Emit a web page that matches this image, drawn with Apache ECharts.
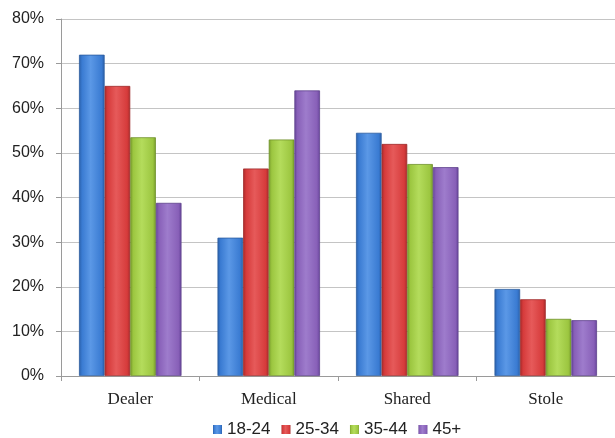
<!DOCTYPE html>
<html>
<head>
<meta charset="utf-8">
<script src="https://cdn.jsdelivr.net/npm/echarts@6/dist/echarts.min.js"></script>
<style>
  html, body { margin: 0; padding: 0; background: #fff; }
  #chart { width: 615px; height: 438px; }
</style>
</head>
<body>
<div id="chart"></div>
<script>
// Share of respondents by age group, per category
const categories = ['Dealer', 'Medical', 'Shared', 'Stole'];
const seriesNames = ['18-24', '25-34', '35-44', '45+'];
const age18to24 = [72, 31, 54.5, 19.5];
const age25to34 = [65, 46.5, 52, 17.2];
const age35to44 = [53.5, 53, 47.5, 12.8];
const age45plus = [38.8, 64, 46.8, 12.5];
const yTicks = [0, 10, 20, 30, 40, 50, 60, 70, 80];

const seriesValues = [age18to24, age25to34, age35to44, age45plus];
const palette = [
  { base: '#3a7bd2', light: '#5b98e6', dark: '#2a5fa8', border: '#2b5c9e' },
  { base: '#d63b3b', light: '#e65a5a', dark: '#a82a2a', border: '#9e2b2b' },
  { base: '#9cc640', light: '#b4dc5c', dark: '#789c2c', border: '#6f902a' },
  { base: '#8860b8', light: '#9e7ccc', dark: '#66449a', border: '#5e418c' }
];

function barFill(c) {
  return new echarts.graphic.LinearGradient(0, 0, 1, 0, [
    { offset: 0, color: c.dark },
    { offset: 0.12, color: c.base },
    { offset: 0.45, color: c.light },
    { offset: 0.88, color: c.base },
    { offset: 1, color: c.dark }
  ]);
}

const chart = echarts.init(document.getElementById('chart'), null, { renderer: 'canvas' });

chart.setOption({
  animation: false,
  backgroundColor: '#ffffff',
  grid: { left: 61, right: 0, top: 19, bottom: 62, containLabel: false },
  legend: {
    bottom: 0,
    left: 208,
    padding: [0, 5, 0, 5],
    itemWidth: 9,
    itemHeight: 9,
    itemGap: 11,
    icon: 'rect',
    itemStyle: { borderWidth: 0 },
    textStyle: { fontFamily: 'Liberation Sans, Arial, sans-serif', fontSize: 17, color: '#222' },
    data: seriesNames
  },
  xAxis: {
    type: 'category',
    data: categories,
    axisLine: { show: true, lineStyle: { color: '#9a9a9a', width: 1 } },
    axisTick: { show: true, length: 5, lineStyle: { color: '#9a9a9a' } },
    axisLabel: {
      margin: 15,
      fontFamily: 'Liberation Serif, Times New Roman, serif',
      fontSize: 17,
      color: '#222'
    }
  },
  yAxis: {
    type: 'value',
    min: yTicks[0],
    max: yTicks[yTicks.length - 1],
    interval: 10,
    axisLine: { show: true, lineStyle: { color: '#9a9a9a', width: 1 } },
    axisTick: { show: true, length: 5, lineStyle: { color: '#9a9a9a' } },
    splitLine: { show: true, lineStyle: { color: '#c4c4c4', width: 1 } },
    axisLabel: {
      margin: 17,
      formatter: '{value}%',
      fontFamily: 'Liberation Sans, Arial, sans-serif',
      fontSize: 16,
      color: '#222'
    }
  },
  series: seriesNames.map((name, i) => ({
    name: name,
    type: 'bar',
    data: seriesValues[i],
    barGap: '0%',
    barCategoryGap: '26%',
    itemStyle: {
      color: barFill(palette[i]),
      borderColor: palette[i].border,
      borderWidth: 0.8
    }
  })),
  color: palette.map(p => p.base)
});
</script>
</body>
</html>
